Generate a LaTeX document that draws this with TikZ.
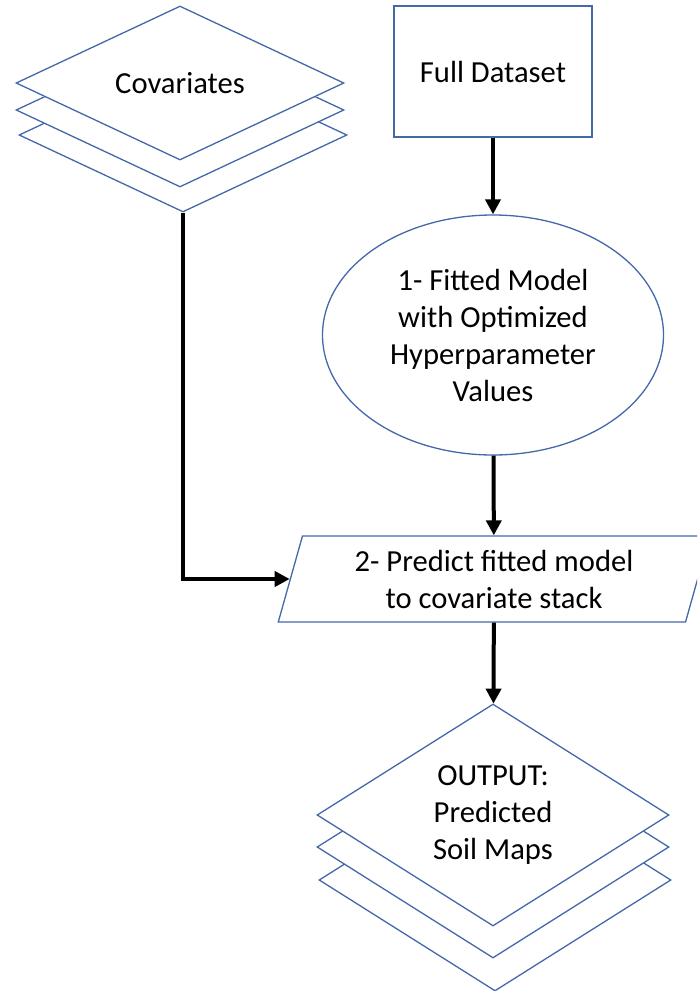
\documentclass[tikz,border=0pt]{standalone}
\usepackage{fontspec}
\setmainfont{Carlito}
\usetikzlibrary{shapes.geometric,arrows.meta}
\definecolor{outline}{RGB}{68,104,170}
\begin{document}
\begin{tikzpicture}[x=0.5pt, y=-0.5pt,
    every node/.style={font=\fontsize{15.3pt}{18.5pt}\selectfont, align=center},
    shapeline/.style={draw=outline, line width=0.65pt, fill=white},
    stacklayer/.style={shapeline, diamond, aspect=1.6, inner sep=0pt},
    flow/.style={line width=2pt, -{Triangle[length=7.5pt, width=7.5pt]}}]
  \useasboundingbox (0,0) rectangle (697,991);
  \clip (0,0) rectangle (697,991);
  % covariate layers, lowest first
  \node[stacklayer, minimum width=164pt, minimum height=77pt] (cov3) at (183,135) {};
  \node[stacklayer, minimum width=164pt, minimum height=77pt] (cov2) at (180,110) {};
  \node[stacklayer, minimum width=164pt, minimum height=77pt] (cov) at (180,83) {Covariates};
  \node[shapeline, rectangle, minimum width=99pt, minimum height=65.5pt] (data) at (493,71.5) {Full Dataset};
  \node[shapeline, ellipse, minimum width=170.5pt, minimum height=120pt] (fit) at (493,335) {1- Fitted Model\\with Optimized\\Hyperparameter\\Values};
  \node[shapeline, trapezium, trapezium left angle=75.6, trapezium right angle=104.4, trapezium stretches, minimum width=216pt, minimum height=43pt] (predict) at (494,579) {2- Predict fitted model\\to covariate stack};
  % output layers, lowest first
  \node[stacklayer, minimum width=176pt, minimum height=111pt] (out3) at (495,880) {};
  \node[stacklayer, minimum width=176pt, minimum height=111pt] (out2) at (493,847) {};
  \node[stacklayer, minimum width=176pt, minimum height=111pt] (out) at (493,815) {OUTPUT:\\Predicted\\Soil Maps};
  \draw[flow] (data) -- (fit);
  \draw[flow] (fit) -- (predict);
  \draw[flow] (predict) -- (out);
  \draw[flow] (cov3.south) |- (predict);
\end{tikzpicture}
\end{document}
